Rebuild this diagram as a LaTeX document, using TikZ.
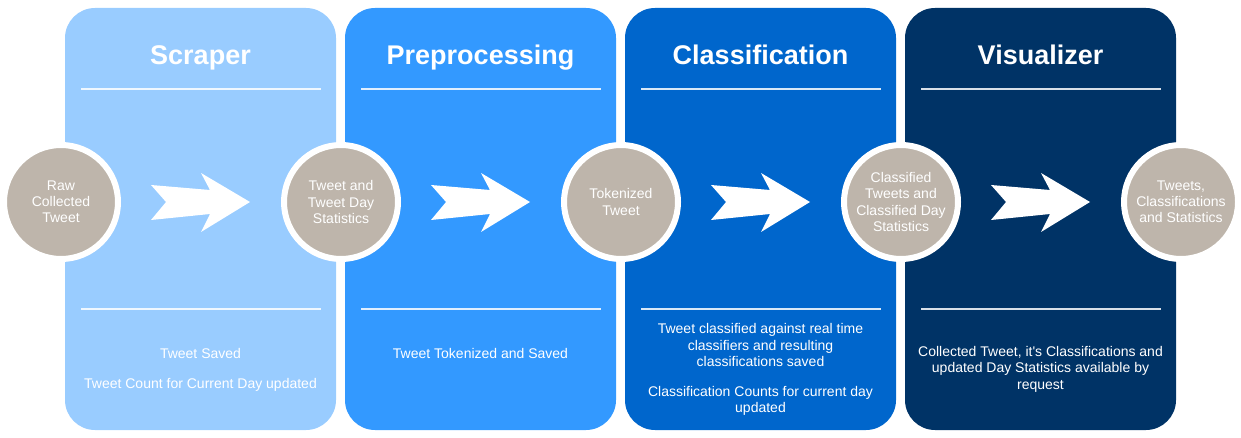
\documentclass[tikz,border=0pt]{standalone}
\usepackage{fontspec}
\setmainfont{Liberation Sans}
\definecolor{pA}{HTML}{99CCFF}
\definecolor{pB}{HTML}{3399FF}
\definecolor{pC}{HTML}{0066CC}
\definecolor{pD}{HTML}{003366}
\definecolor{stone}{RGB}{190,181,171}
\begin{document}
\begin{tikzpicture}[x=1pt,y=-1pt,
  panel/.style={rounded corners=30pt},
  title/.style={text=white,anchor=base,font=\fontsize{27}{30}\selectfont\bfseries},
  sep/.style={white,opacity=0.85,line width=1.5pt},
  body/.style={text=white,align=center,font=\fontsize{14}{16.5}\selectfont},
  stage/.style={circle,fill=stone,draw=white,line width=6pt,minimum size=114pt,inner sep=0pt,
    text=white,align=center,font=\fontsize{14}{16.2}\selectfont},
  flow/.style={fill=white}]
\useasboundingbox (0,0) rectangle (1241,438);
% panels
\fill[pA,panel] (65,8) rectangle (336,430);
\fill[pB,panel] (345,8) rectangle (616,430);
\fill[pC,panel] (625,8) rectangle (896,430);
\fill[pD,panel] (905,8) rectangle (1176,430);
% titles
\node[title] (t1) at (200.5,65) {Scraper};
\node[title] (t2) at (480.5,65) {Preprocessing};
\node[title] (t3) at (760.5,65) {Classification};
\node[title] (t4) at (1040.5,65) {Visualizer};
% separators
\foreach \i in {0,1,2,3}{
  \draw[sep] (81+\i*280,89) -- (321+\i*280,89);
  \draw[sep] (81+\i*280,309) -- (321+\i*280,309);
}
% flow arrows
\foreach \i in {0,1,2,3}{
  \fill[flow,xshift=\i*280pt] (151,185) -- (210,190) -- (201,173) -- (250,202) -- (201,232) -- (210,214) -- (151,220) -- (166,202) -- cycle;
}
% circles
\node[stage] (c1) at (61,202) {Raw\\Collected\\Tweet};
\node[stage] (c2) at (341,202) {Tweet and\\Tweet Day\\Statistics};
\node[stage] (c3) at (621,202) {Tokenized\\Tweet};
\node[stage] (c4) at (901,202) {Classified\\Tweets and\\Classified Day\\Statistics};
\node[stage] (c5) at (1181,202) {Tweets,\\Classifications\\and Statistics};
% body texts
\node[body] (b1a) at (200.5,353) {Tweet Saved};
\node[body] (b1b) at (200.5,385) {Tweet Count for Current Day updated};
\node[body] (b2) at (480.5,353) {Tweet Tokenized and Saved};
\node[body] (b3a) at (760.5,345) {Tweet classified against real time\\classifiers and resulting\\classifications saved};
\node[body] (b3b) at (760.5,401) {Classification Counts for current day\\updated};
\node[body] (b4) at (1040.5,369) {Collected Tweet, it\textquotesingle s Classifications and\\updated Day Statistics available by\\request};
\end{tikzpicture}
\end{document}
